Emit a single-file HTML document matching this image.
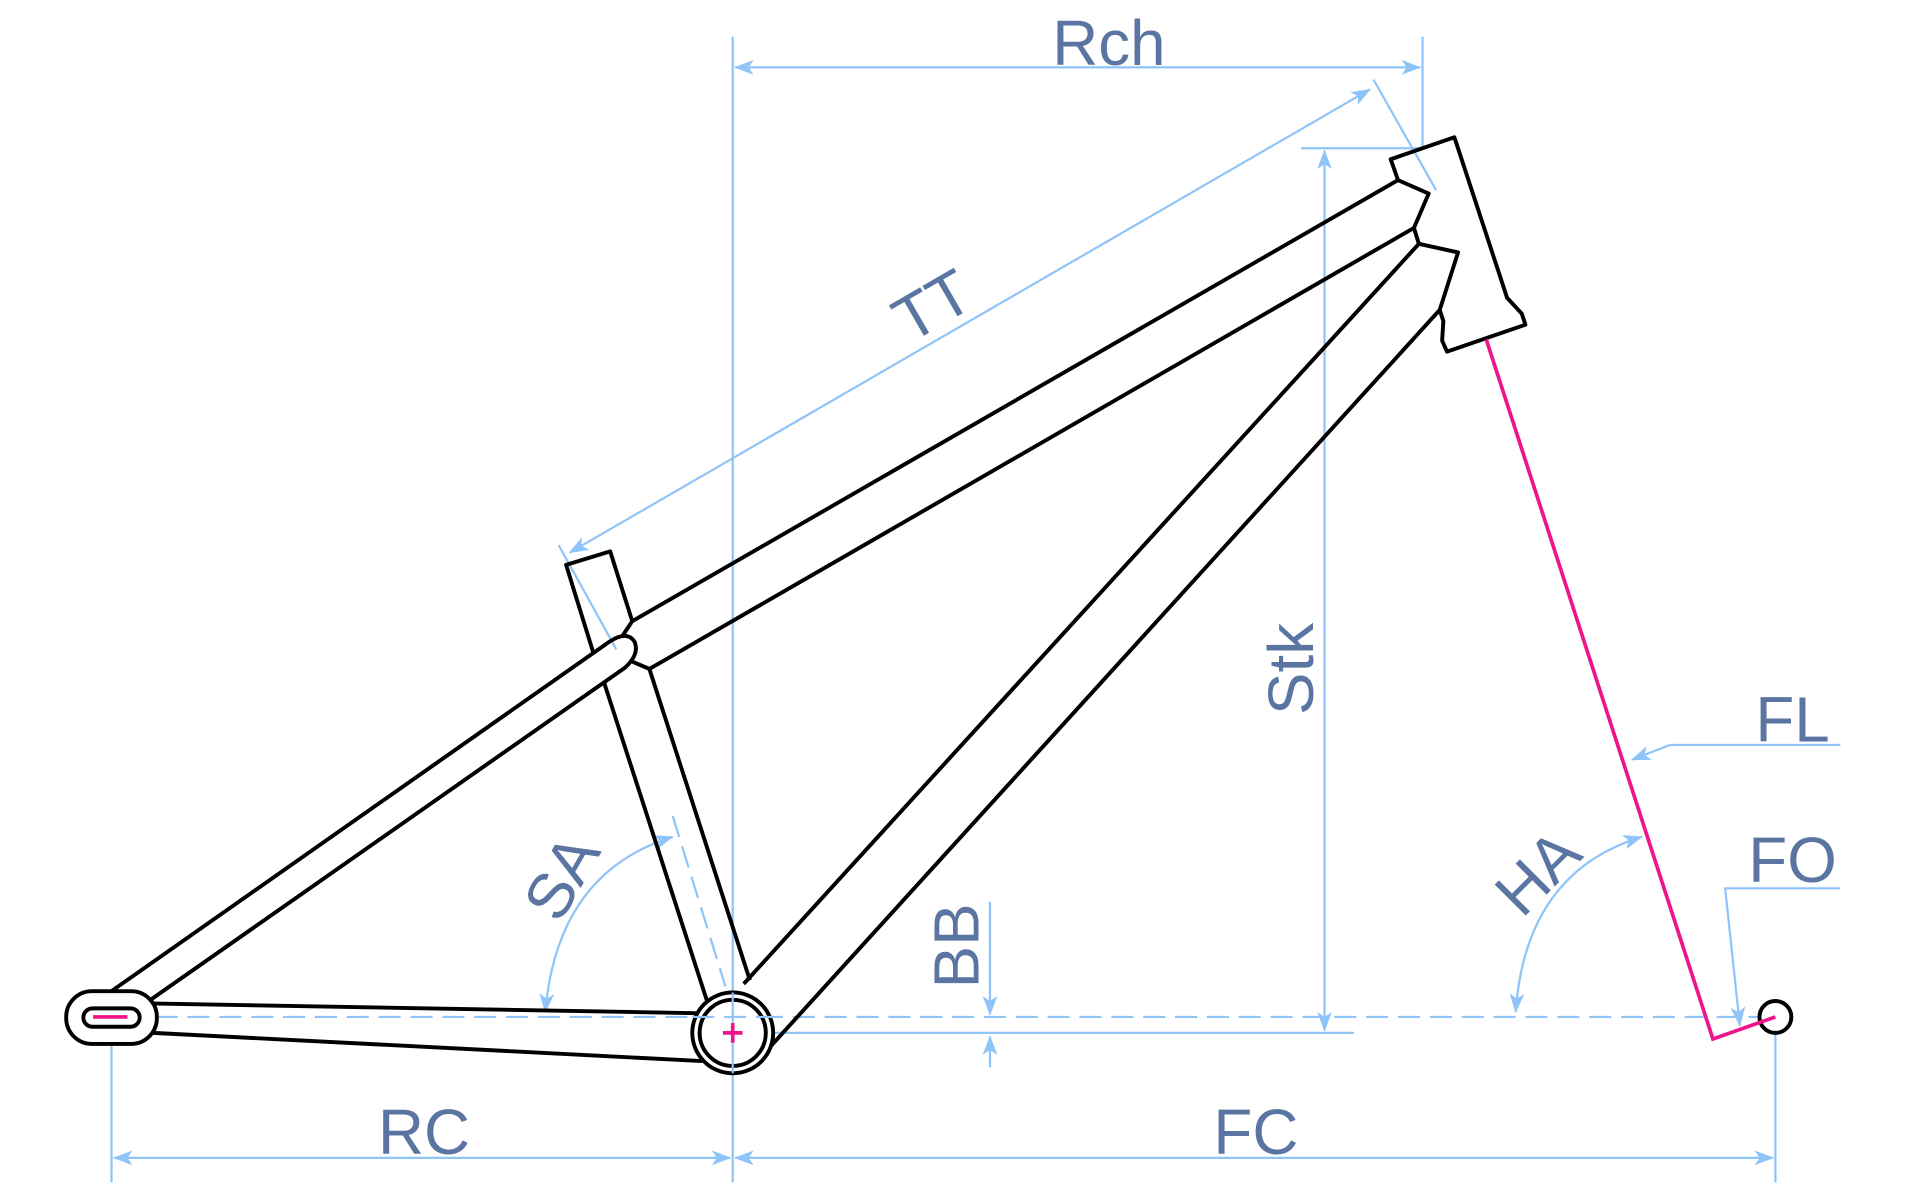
<!DOCTYPE html>
<html><head><meta charset="utf-8"><style>
html,body{margin:0;padding:0;background:#fff;}
svg{display:block;}
text{font-family:"Liberation Sans",sans-serif;fill:#5b75a3;font-size:52px;}
</style></head><body>
<svg width="1920" height="1200" viewBox="0 0 1567 979.4" xmlns="http://www.w3.org/2000/svg">
<defs>
<marker id="a" viewBox="0 0 16 12" refX="15" refY="6" markerWidth="16" markerHeight="12" markerUnits="userSpaceOnUse" orient="auto-start-reverse">
<path d="M0,0 L16,6 L0,12 L4,6 Z" fill="#8ec4f8"/></marker>
</defs>
<g stroke="#8ec4f8" stroke-width="1.8" fill="none">
<line x1="598" y1="30" x2="598" y2="965"/>
<line x1="600" y1="55" x2="1159" y2="55" marker-start="url(#a)" marker-end="url(#a)"/>
<line x1="1161" y1="30" x2="1161" y2="121"/>
<line x1="1062" y1="121" x2="1161" y2="121"/>
<line x1="1081" y1="123" x2="1081" y2="841" marker-start="url(#a)" marker-end="url(#a)"/>
<line x1="630" y1="843" x2="1105" y2="843"/>
<line x1="465" y1="451" x2="1118" y2="73" marker-start="url(#a)" marker-end="url(#a)"/>
<line x1="456" y1="445" x2="503" y2="530"/>
<line x1="1121" y1="65" x2="1172" y2="155"/>
<line x1="75" y1="830" x2="1440" y2="830" stroke-dasharray="18 8"/>
<line x1="549" y1="666" x2="592" y2="805" stroke-dasharray="18 8"/>
<line x1="808" y1="736" x2="808" y2="828" marker-end="url(#a)"/>
<line x1="808" y1="871" x2="808" y2="846" marker-end="url(#a)"/>
<path d="M445,826 Q455,712 549,683" marker-start="url(#a)" marker-end="url(#a)"/>
<path d="M1237,826 Q1245,712 1340,683" marker-start="url(#a)" marker-end="url(#a)"/>
<polyline points="1502,608 1363,608 1332,620" marker-end="url(#a)"/>
<polyline points="1502,725 1408,725 1420,837" marker-end="url(#a)"/>
<line x1="93" y1="945" x2="596" y2="945" marker-start="url(#a)" marker-end="url(#a)"/>
<line x1="600" y1="945" x2="1447" y2="945" marker-start="url(#a)" marker-end="url(#a)"/>
<line x1="91" y1="830" x2="91" y2="965"/>
<line x1="1449" y1="830" x2="1449" y2="965"/>
</g>
<g stroke="#000" stroke-width="3.2" fill="none" stroke-linejoin="round">
<polyline points="1141,147 1135,130 1187,112 1230,243 1242,256 1245,265 1181,287 1177,278 1178,262 1175,253"/>
<polyline points="516,507 1141,147 1166,158 1154,186 530,546"/>
<polyline points="1154,186 1158,199 607,803"/>
<polyline points="1158,199 1190,206 1175,253 628,855"/>
<polyline points="484,532 462,461 498,450 516,507 508,519"/>
<line x1="493" y1="557" x2="578" y2="820"/>
<line x1="530" y1="546" x2="612" y2="800"/>
<path d="M88,811 L497,524 Q512,514 518,524 Q522,534 510,545 L120,818"/>
<line x1="516" y1="540" x2="530" y2="546"/>
<line x1="122" y1="819" x2="573" y2="827"/>
<line x1="125" y1="843" x2="573" y2="866"/>
<rect x="54" y="809" width="74" height="43" rx="21" fill="#fff"/>
<rect x="68" y="823" width="46" height="15" rx="7.5"/>
<circle cx="598" cy="843" r="33" fill="#fff"/>
<circle cx="598" cy="843" r="27"/>
<circle cx="1449" cy="830" r="13" fill="#fff"/>
</g>
<g stroke="#8ec4f8" stroke-width="1.8"><line x1="598" y1="810" x2="598" y2="876"/><line x1="565" y1="830" x2="631" y2="830" stroke-dasharray="18 8"/></g>
<g stroke="#f0148c" stroke-width="3" fill="none">
<polyline points="1213,277 1398,848 1449,830"/>
<line x1="76" y1="830" x2="104" y2="830"/>
<line x1="590" y1="843" x2="606" y2="843"/><line x1="598" y1="835" x2="598" y2="851"/>
</g>
<text x="905" y="53" text-anchor="middle">Rch</text>
<text transform="translate(763,253) rotate(-30)" text-anchor="middle" dominant-baseline="middle">TT</text>
<text transform="translate(1058,546) rotate(-90)" text-anchor="middle" dominant-baseline="middle">Stk</text>
<text x="1463" y="605" text-anchor="middle">FL</text>
<text x="1463" y="720" text-anchor="middle">FO</text>
<text transform="translate(1258,715) rotate(-45)" text-anchor="middle" dominant-baseline="middle">HA</text>
<text transform="translate(462,718) rotate(-60)" text-anchor="middle" dominant-baseline="middle">SA</text>
<text transform="translate(785,772) rotate(-90)" text-anchor="middle" dominant-baseline="middle">BB</text>
<text x="346" y="942" text-anchor="middle">RC</text>
<text x="1025" y="942" text-anchor="middle">FC</text>
</svg>
</body></html>
